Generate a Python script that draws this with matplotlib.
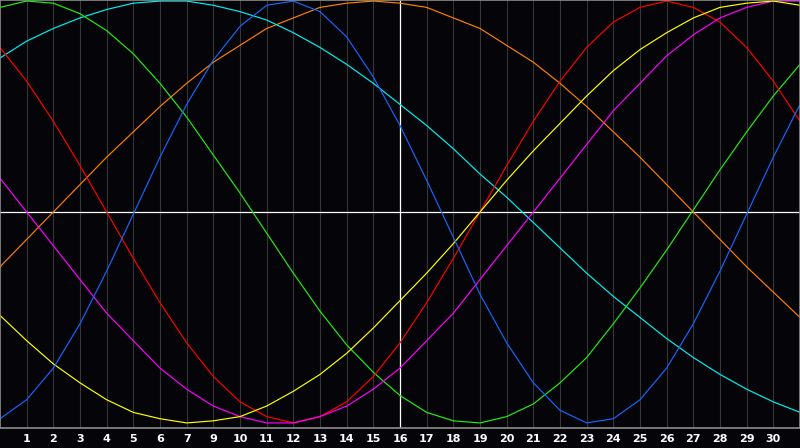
import matplotlib.pyplot as plt

# day slots along the x axis (one gridline per slot)
slots = list(range(31))
tick_slots = list(range(1, 30))
tick_labels = ["1", "2", "3", "4", "5", "6", "7", "9", "10", "11", "12", "13", "14", "15",
               "16", "17", "18", "19", "20", "21", "22", "23", "24", "25", "26", "27", "28",
               "29", "30"]

# curve values, one per slot (-1 .. 1)
red = [0.78, 0.62, 0.43, 0.22, 0.00, -0.22, -0.43, -0.62, -0.78, -0.90, -0.97, -1.00, -0.97,
       -0.90, -0.78, -0.62, -0.43, -0.22, 0.00, 0.22, 0.43, 0.62, 0.78, 0.90, 0.97, 1.00,
       0.97, 0.90, 0.78, 0.62, 0.43]
green = [0.97, 1.00, 0.99, 0.94, 0.86, 0.75, 0.61, 0.45, 0.27, 0.09, -0.10, -0.29, -0.47,
         -0.63, -0.76, -0.87, -0.95, -0.99, -1.00, -0.97, -0.91, -0.81, -0.69, -0.53, -0.36,
         -0.18, 0.01, 0.20, 0.38, 0.55, 0.70]
blue = [-0.98, -0.89, -0.74, -0.53, -0.28, -0.01, 0.26, 0.51, 0.72, 0.88, 0.98, 1.00, 0.95,
        0.83, 0.64, 0.41, 0.15, -0.12, -0.39, -0.62, -0.81, -0.94, -1.00, -0.98, -0.89,
        -0.74, -0.53, -0.28, -0.01, 0.26, 0.51]
cyan = [0.73, 0.81, 0.87, 0.92, 0.96, 0.99, 1.00, 1.00, 0.98, 0.95, 0.91, 0.85, 0.78, 0.70,
        0.61, 0.51, 0.41, 0.30, 0.18, 0.07, -0.05, -0.17, -0.29, -0.40, -0.50, -0.60, -0.69,
        -0.77, -0.84, -0.90, -0.95]
magenta = [0.16, 0.00, -0.16, -0.32, -0.48, -0.61, -0.74, -0.84, -0.92, -0.97, -1.00, -1.00,
           -0.97, -0.92, -0.84, -0.74, -0.61, -0.48, -0.32, -0.16, 0.00, 0.16, 0.32, 0.48,
           0.61, 0.74, 0.84, 0.92, 0.97, 1.00, 1.00]
yellow = [-0.49, -0.61, -0.72, -0.81, -0.89, -0.95, -0.98, -1.00, -0.99, -0.97, -0.92, -0.85,
          -0.77, -0.67, -0.55, -0.42, -0.29, -0.15, 0.00, 0.15, 0.29, 0.42, 0.55, 0.67, 0.77,
          0.85, 0.92, 0.97, 0.99, 1.00, 0.98]
orange = [-0.26, -0.13, 0.00, 0.13, 0.26, 0.38, 0.50, 0.61, 0.71, 0.79, 0.87, 0.92, 0.97,
          0.99, 1.00, 0.99, 0.97, 0.92, 0.87, 0.79, 0.71, 0.61, 0.50, 0.38, 0.26, 0.13, 0.00,
          -0.13, -0.26, -0.38, -0.50]

bg = "#050409"
fig = plt.figure(figsize=(8, 4.48), dpi=100, facecolor=bg)
ax = fig.add_axes([0, 20 / 448, 1, 428 / 448], facecolor=bg)

# day gridlines, the middle one is white
for s in tick_slots:
    if s == 15:
        continue
    ax.axvline(s, color="#363636", lw=0.8, zorder=1)
ax.axvline(15, color="white", lw=0.9, zorder=1)
ax.axhline(0, color="white", lw=0.9, zorder=1)

series = [(orange, "#ff8000"), (cyan, "#00f0f0"), (green, "#22ee11"), (red, "#ff0000"),
          (magenta, "#ff00ff"), (yellow, "#ffff00"), (blue, "#1666ff")]
for vals, col in series:
    ax.plot(slots, vals, color=col, lw=0.85, zorder=2)

ax.set_xlim(0, 30)
ax.set_ylim(-1.024, 1.005)
ax.set_yticks([])
ax.set_xticks(tick_slots)
ax.set_xticklabels(tick_labels)
ax.tick_params(axis="x", length=0, pad=4, colors="white", labelsize=8)
for lab in ax.get_xticklabels():
    lab.set_fontweight("bold")
for sp in ax.spines.values():
    sp.set_color("#8c8c8c")
    sp.set_linewidth(1.2)

fig.savefig("out.png", dpi=100, facecolor=bg)
